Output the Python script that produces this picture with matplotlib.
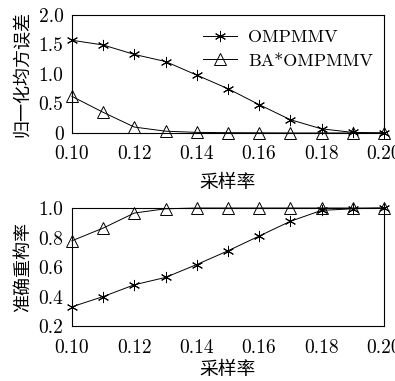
import matplotlib
matplotlib.use("Agg")
import matplotlib.pyplot as plt

rates = [0.10, 0.11, 0.12, 0.13, 0.14, 0.15, 0.16, 0.17, 0.18, 0.19, 0.20]
nmse_omp = [1.57, 1.49, 1.33, 1.21, 0.98, 0.75, 0.48, 0.225, 0.07, 0.01, 0.0]
nmse_ba = [0.62, 0.35, 0.10, 0.03, 0.01, 0.005, 0.003, 0.0, 0.0, 0.0, 0.0]
acc_omp = [0.331, 0.40, 0.48, 0.53, 0.617, 0.71, 0.81, 0.91, 0.984, 0.995, 1.0]
acc_ba = [0.778, 0.864, 0.966, 0.995, 1.0, 1.0, 1.0, 1.0, 1.0, 1.0, 1.0]
xticks = [0.10, 0.12, 0.14, 0.16, 0.18, 0.20]
xticklabels = ["0.10", "0.12", "0.14", "0.16", "0.18", "0.20"]
yticks_top = [0, 0.5, 1.0, 1.5, 2.0]
yticklabels_top = ["0", "0.5", "1.0", "1.5", "2.0"]
yticks_bot = [0.2, 0.4, 0.6, 0.8, 1.0]
yticklabels_bot = ["0.2", "0.4", "0.6", "0.8", "1.0"]

plt.rcParams['font.family'] = ['cmr10', 'Noto Sans CJK SC', 'DejaVu Serif']
plt.rcParams['axes.formatter.use_mathtext'] = True

fig = plt.figure(figsize=(3.95, 3.81), dpi=100)
ax1 = fig.add_axes([0.182, 0.651, 0.790, 0.310])
ax2 = fig.add_axes([0.182, 0.144, 0.790, 0.310])

star = (6, 2, 0)
cjk = ['Noto Sans CJK SC']
TF = 14

def style(ax):
    ax.set_xlim(0.10, 0.20)
    ax.set_xticks(xticks)
    ax.set_xticklabels(xticklabels, fontsize=TF)
    ax.tick_params(length=0)
    ax.tick_params(axis='x', pad=9)
    ax.tick_params(axis='y', pad=6)
    for s in ax.spines.values():
        s.set_linewidth(0.8)
    for lab in ax.get_yticklabels():
        lab.set_fontsize(TF)

ax1.plot(rates, nmse_omp, color='black', lw=0.7, marker=star, ms=8, mew=0.7, label='OMPMMV')
ax1.plot(rates, nmse_ba, color='black', lw=0.7, marker='^', ms=8, mew=0.7, mfc='none', label='BA*OMPMMV')
ax1.set_ylim(0, 2.0)
ax1.set_yticks(yticks_top)
ax1.set_yticklabels(yticklabels_top)
style(ax1)
ax1.set_xlabel('采样率', family=cjk, fontsize=13.5, labelpad=6)
ax1.set_ylabel('归一化均方误差', family=cjk, fontsize=13, labelpad=5)
leg = ax1.legend(loc='upper right', frameon=False, fontsize=13, handlelength=1.9,
                 handletextpad=0.6, borderaxespad=0.2, labelspacing=0.45,
                 bbox_to_anchor=(1.0, 0.97))

ax2.plot(rates, acc_omp, color='black', lw=0.7, marker=star, ms=8, mew=0.7)
ax2.plot(rates, acc_ba, color='black', lw=0.7, marker='^', ms=8, mew=0.7, mfc='none')
ax2.set_ylim(0.2, 1.0)
ax2.set_yticks(yticks_bot)
ax2.set_yticklabels(yticklabels_bot)
style(ax2)
ax2.set_xlabel('采样率', family=cjk, fontsize=13.5, labelpad=2)
ax2.set_ylabel('准确重构率', family=cjk, fontsize=13, labelpad=5)

for ax in (ax1, ax2):
    for l in ax.lines:
        l.set_clip_on(False)

fig.savefig('out.png', dpi=100)
